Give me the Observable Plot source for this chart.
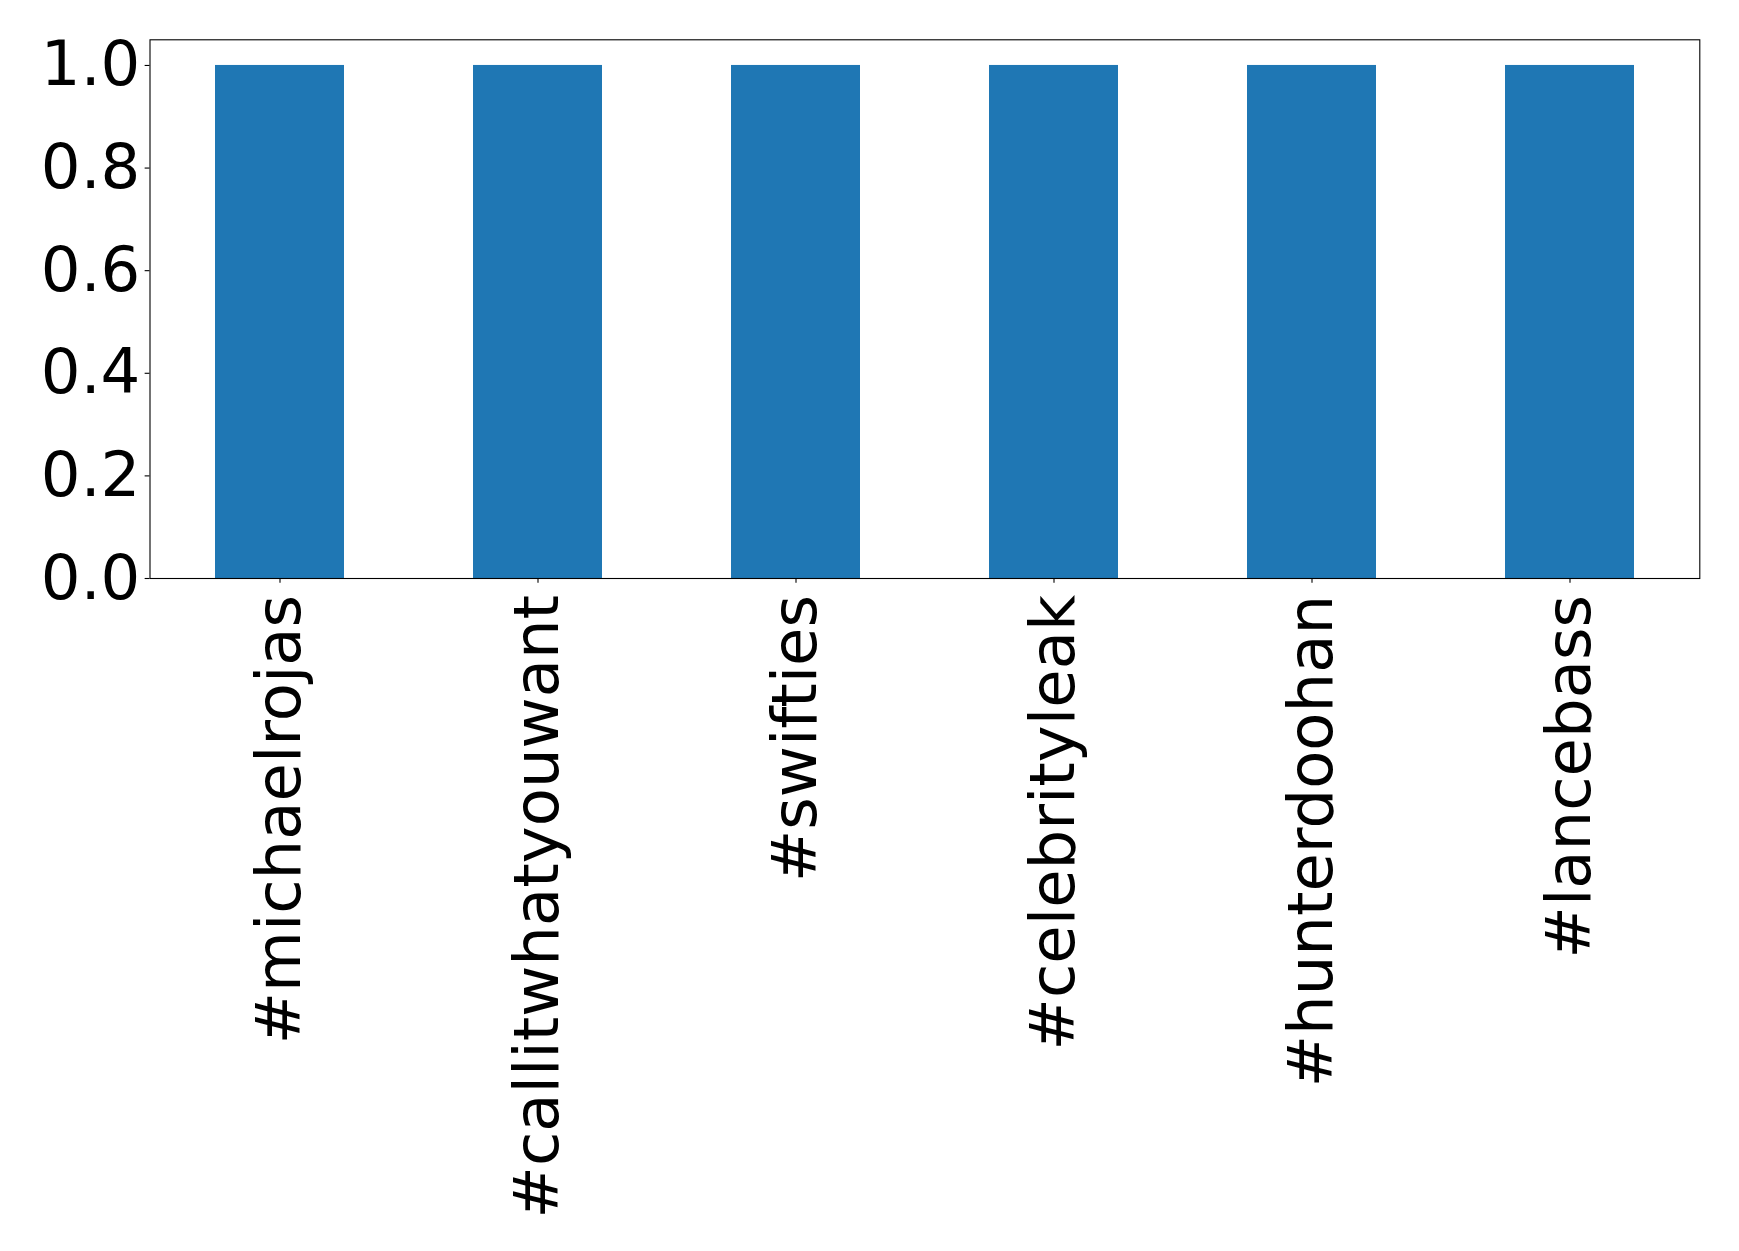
<!DOCTYPE html>
<html>
<head>
<meta charset="utf-8">
<script src="https://cdn.jsdelivr.net/npm/d3@7"></script>
<script src="https://cdn.jsdelivr.net/npm/@observablehq/plot@0.6"></script>
<style>
  html, body { margin: 0; padding: 0; background: #fff; }
  #chart svg { display: block; }
</style>
</head>
<body>
<div id="chart"></div>
<script>
const hashtags = ["#michaelrojas", "#callitwhatyouwant", "#swifties", "#celebrityleak", "#hunterdoohan", "#lancebass"];
const counts = [1, 1, 1, 1, 1, 1];
const yTicks = [0, 0.2, 0.4, 0.6, 0.8, 1.0];

const data = hashtags.map((h, i) => ({tag: h, value: counts[i]}));

const fs = 62.5;
const plot = Plot.plot({
  width: 1739,
  height: 1251,
  marginLeft: 149.5,
  marginRight: 39.7,
  marginTop: 39.3,
  marginBottom: 673,
  style: {fontFamily: "DejaVu Sans", fontSize: fs + "px", color: "black", background: "white", overflow: "visible"},
  x: {domain: hashtags, paddingInner: 0.5, paddingOuter: 0.25},
  y: {domain: [0, 1.05]},
  marks: [
    Plot.barY(data, {x: "tag", y: "value", fill: "#1f77b4"}),
    Plot.axisY({ticks: yTicks, tickFormat: d3.format(".1f"), tickSize: 4.86, tickPadding: 4.86, fontSize: fs, label: null, stroke: "black", strokeWidth: 1.1}),
    Plot.axisX({tickRotate: -90, tickSize: 4.86, tickPadding: 11.5, fontSize: fs, label: null, stroke: "black", strokeWidth: 1.1}),
    Plot.frame({stroke: "black", strokeWidth: 1.1})
  ]
});
document.getElementById("chart").appendChild(plot);
</script>
</body>
</html>
